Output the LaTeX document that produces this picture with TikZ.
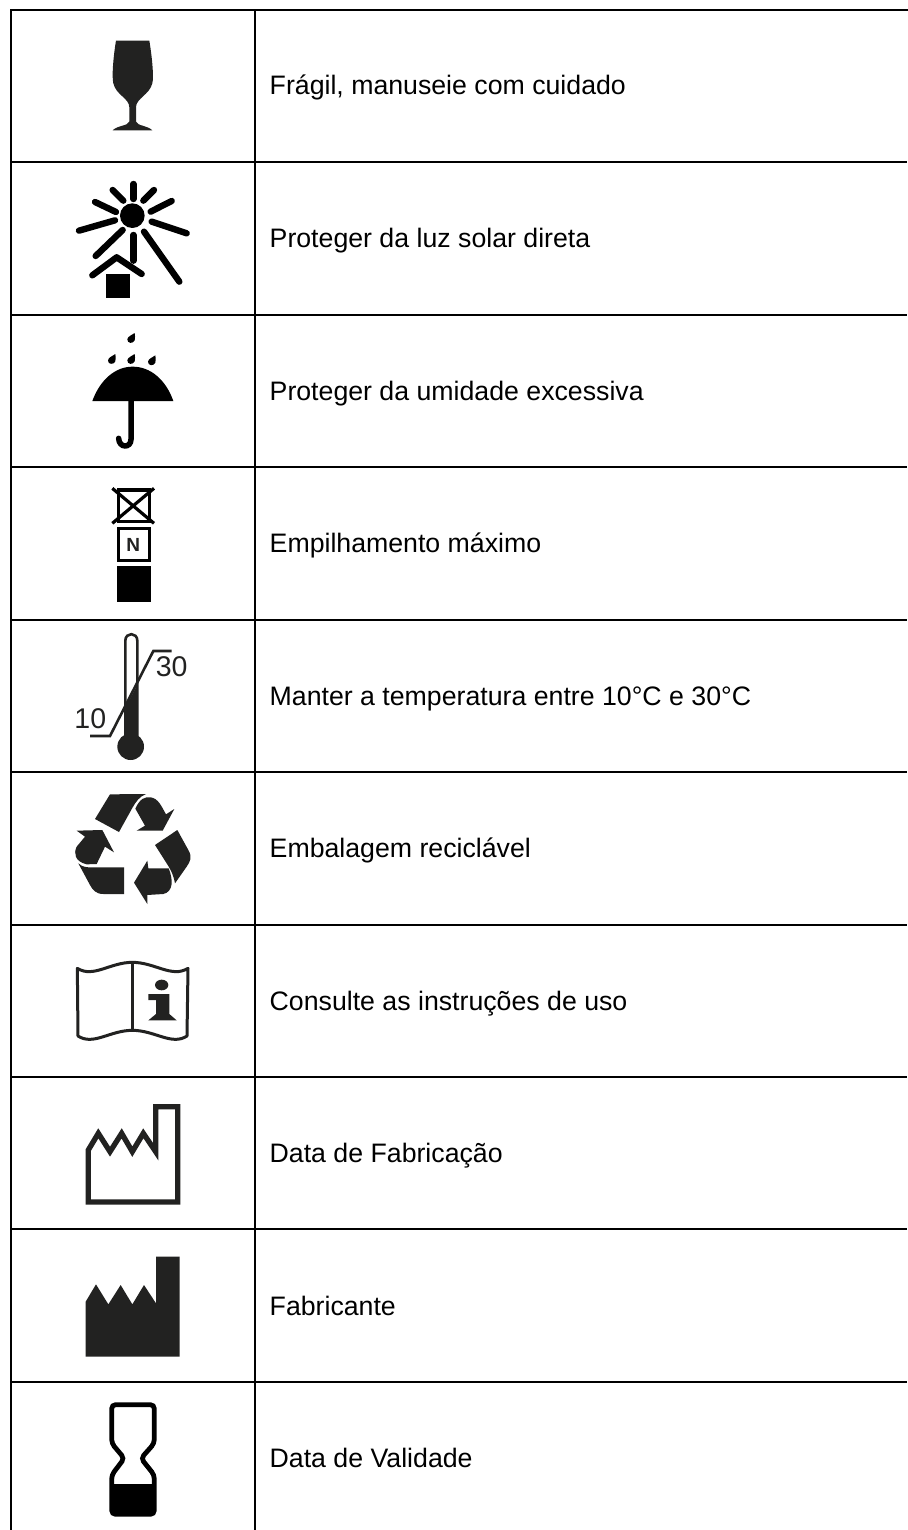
\documentclass[tikz,border=0pt]{standalone}
\usepackage{fontspec}
\setmainfont{Liberation Sans}
\definecolor{ink}{HTML}{222221}
\tikzset{
  x=1pt,y=-1pt,
  grid/.style={line width=2pt,black,line cap=rect},
  label/.style={anchor=base west,inner sep=0pt,font=\fontsize{26.7}{30}\selectfont,text=black},
  ray/.style={line width=6.4pt,line cap=round,black},
  icn/.style={shift={(#1)},scale=1/3}
}
\begin{document}
\begin{tikzpicture}
\useasboundingbox (0,0) rectangle (907,1530);
\fill[white] (0,0) rectangle (907,1530);
% grid
\draw[grid] (10.5,10) -- (907,10);
\foreach \yy in {161.7,314.8,467,619.6,771.8,924.8,1077,1229.4,1381.6}
  \draw[grid,line cap=butt] (10.5,\yy) -- (907,\yy);
\draw[grid,line cap=butt] (10.5,10) -- (10.5,1530);
\draw[grid,line cap=butt] (255,10) -- (255,1530);
% labels
\node[label] (t1) at (269.5,95) {Frágil, manuseie com cuidado};
\node[label] (t2) at (269.5,247.6) {Proteger da luz solar direta};
\node[label] (t3) at (269.5,400) {Proteger da umidade excessiva};
\node[label] (t4) at (269.5,552.4) {Empilhamento máximo};
\node[label] (t5) at (269.5,705) {Manter a temperatura entre 10°C e 30°C};
\node[label] (t6) at (269.5,857.4) {Embalagem reciclável};
\node[label] (t7) at (269.5,1010) {Consulte as instruções de uso};
\node[label] (t8) at (269.5,1162.4) {Data de Fabricação};
\node[label] (t9) at (269.5,1315) {Fabricante};
\node[label] (t10) at (269.5,1467.6) {Data de Validade};
% glass
\begin{scope}[icn={60,0}]
\fill[ink] (168,122) -- (268,122) .. controls (276,170) and (282,230) .. (277,250)
  .. controls (268,285) and (228,295) .. (228,322) -- (228,365)
  .. controls (232,378) and (262,376) .. (277,391) -- (158,391)
  .. controls (172,376) and (204,378) .. (208,365) -- (208,322)
  .. controls (208,295) and (168,285) .. (160,250)
  .. controls (155,230) and (160,170) .. (168,122) -- cycle;
\end{scope}
% sun
\begin{scope}[icn={60,0}]
\fill[black] (217,647) circle (37);
\draw[ray] (220,552) -- (220,597);
\draw[ray] (158,570) -- (190,602);
\draw[ray] (282,570) -- (250,602);
\draw[ray] (105,606) -- (168,636);
\draw[ray] (335,603) -- (272,635);
\draw[ray] (57,692) -- (165,661);
\draw[ray] (380,700) -- (275,665);
\draw[ray] (107,768) -- (188,690);
\draw[ray] (220,705) -- (220,782);
\draw[ray] (252,695) -- (358,845);
\draw[ray,line join=round] (97,826) -- (170,772) -- (245,822);
\fill[black] (138,822) rectangle (210,893);
\end{scope}
% umbrella
\begin{scope}[icn={60,320}]
\fill[black] (97,243) .. controls (120,180) and (165,140) .. (218,140)
  .. controls (272,140) and (318,180) .. (340,243) -- cycle;
\draw[black,line width=5.5pt,line cap=round] (213,243) -- (213,358)
  .. controls (213,385) and (177,385) .. (176,355);
\foreach \dx/\dy in {213/55,155/118,213/118,275/122}
  \fill[black,shift={(\dx,\dy)}] (11,-16) .. controls (11,-8) and (14,-2) .. (11,6)
    .. controls (7,17) and (-12,16) .. (-11,3) .. controls (-10,-6) and (3,-10) .. (11,-16) -- cycle;
\end{scope}
% stacking
\begin{scope}[icn={60,320}]
\draw[black,line width=3.6pt] (175,510) rectangle (268,605);
\draw[black,line width=3.2pt] (157,505) -- (282,610) (157,610) -- (282,505);
\draw[black,line width=3.6pt] (175,625) rectangle (268,722);
\node[font=\fontsize{19}{19}\selectfont\bfseries,inner sep=0pt,text=ink] (nbox) at (220,676) {N};
\fill[black] (171,738) rectangle (272,846);
\end{scope}
% thermometer
\begin{scope}[icn={60,620}]
\fill[ink] (196,262) -- (232,196) -- (232,360) -- (196,360) -- cycle;
\fill[ink] (212,380) circle (40);
\draw[ink,line width=2.6pt] (196,350) -- (196,62) .. controls (196,36) and (232,36) .. (232,62) -- (232,350);
\draw[ink,line width=2.6pt,line join=miter] (90,348) -- (150,348) -- (280,93) -- (335,93);
\node[font=\fontsize{28.5}{28}\selectfont,inner sep=0pt,text=ink] (lo) at (91,297) {10};
\node[font=\fontsize{28.5}{28}\selectfont,inner sep=0pt,text=ink] (hi) at (335,140) {30};
\end{scope}
% recycling
\begin{scope}[icn={60,620}]
\fill[ink] (105,597) -- (150,523) -- (258,522) .. controls (238,530) and (228,545) .. (218,562) -- (177,636) -- cycle;
\fill[ink] (226,566) .. controls (240,535) and (255,530) .. (272,532) .. controls (295,535) and (305,560) .. (318,583) -- (343,567) -- (308,632) -- (230,632) -- (255,617) -- cycle;
\fill[ink] (285,675) -- (352,630) -- (385,690) .. controls (398,712) and (390,725) .. (380,740) -- (345,790) .. controls (340,765) and (335,755) .. (325,738) -- cycle;
\fill[ink] (326,745) -- (265,745) -- (262,722) -- (222,788) -- (262,852) -- (262,825) -- (310,822) .. controls (340,815) and (340,780) .. (326,745) -- cycle;
\fill[ink] (55,730) .. controls (68,742) and (80,742) .. (95,742) -- (192,742) -- (192,822) -- (130,822) .. controls (108,822) and (98,810) .. (90,795) -- cycle;
\fill[ink] (50,680) -- (75,650) -- (50,632) -- (127,630) -- (162,697) -- (135,680) -- (110,732) -- (80,733) .. controls (45,725) and (40,700) .. (50,680) -- cycle;
\end{scope}
% book
\begin{scope}[icn={60,920}]
\draw[ink,line width=3pt,line join=round] (52,145) .. controls (100,175) and (150,127) .. (217,127)
  .. controls (285,127) and (335,175) .. (384,145) -- (381,348)
  .. controls (335,378) and (285,331) .. (217,331)
  .. controls (150,331) and (100,378) .. (54,348) -- cycle;
\draw[ink,line width=3pt] (217,127) -- (217,335);
\fill[ink] (305,195) ellipse (20 and 16);
\fill[ink] (265,222) -- (328,222) -- (328,282) -- (350,301) -- (265,301) -- (288,282) -- (288,240) -- (265,240) -- cycle;
\end{scope}
% manufacture date
\begin{scope}[icn={60,920}]
\draw[ink,line width=5.3pt,line join=miter] (85,690) -- (115,640) -- (150,695) -- (185,640) -- (217,695) -- (250,640) -- (287,695) -- (287,560) -- (353,560) -- (353,846) -- (85,846) -- cycle;
\end{scope}
% manufacturer
\begin{scope}[icn={60,1240}]
\fill[ink] (77,185) -- (108,133) -- (145,193) -- (182,135) -- (217,193) -- (252,135) -- (288,190) -- (288,50) -- (359,50) -- (359,350) -- (77,350) -- cycle;
\end{scope}
% hourglass
\begin{scope}[icn={60,1240}]
\fill[black] (155,732) rectangle (283,823);
\draw[black,line width=4.8pt,rounded corners=4pt] (155,494) -- (283,494) -- (283,610) -- (243,655) -- (283,705) -- (283,823) -- (155,823) -- (155,705) -- (193,655) -- (155,610) -- cycle;
\end{scope}
\end{tikzpicture}
\end{document}
